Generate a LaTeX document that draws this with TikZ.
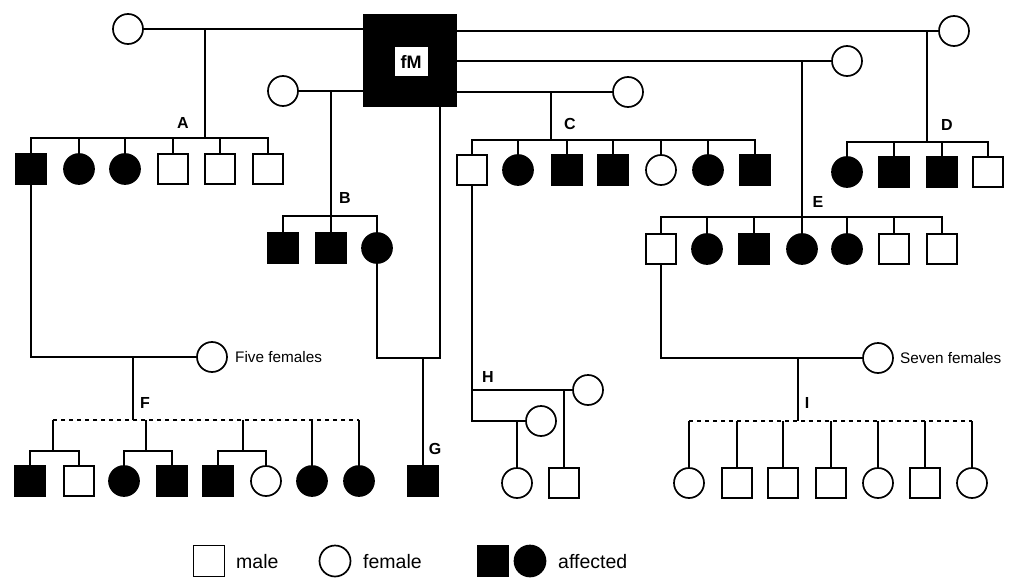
\documentclass[tikz,border=0pt]{standalone}
\usepackage{fontspec}
\setmainfont{Liberation Sans}
\begin{document}
\begin{tikzpicture}[x=1pt,y=-1pt,
  ln/.style={line width=1.8pt},
  dl/.style={line width=1.8pt, dash pattern=on 4pt off 4pt},
  ind/.style={draw, line width=1.7pt, inner sep=0pt, minimum size=30pt, fill=white},
  ma/.style={ind, rectangle},
  fe/.style={ind, circle},
  ama/.style={ma, fill=black},
  afe/.style={fe, fill=black},
  lab/.style={font=\bfseries\fontsize{16}{18}\selectfont, inner sep=0pt},
  txt/.style={font=\fontsize{15.3}{17}\selectfont, inner sep=0pt, anchor=west},
  leg/.style={font=\fontsize{19.5}{22}\selectfont, inner sep=0pt, anchor=west}]
\useasboundingbox (0,0) rectangle (1012,578);

% founders
\node[draw, fill=black, minimum width=93pt, minimum height=92pt, inner sep=0pt, line width=1pt] (fM) at (410,60.5) {};
\node[fill=white, minimum width=33pt, minimum height=29pt, inner sep=0pt, font=\bfseries\fontsize{18}{20}\selectfont] (fMl) at (411,62) {fM};
\coordinate (fMdrop) at (440,107);
\node[fe] (gA) at (128,29) {};
\node[fe] (gB) at (283,91) {};
\node[fe] (gC) at (628,92) {};
\node[fe] (gE) at (847,61) {};
\node[fe] (gD) at (954,31) {};

% A children
\node[ama] (a1) at (31,169) {};
\node[afe] (a2) at (79,169) {};
\node[afe] (a3) at (125,169) {};
\node[ma] (a4) at (173,169) {};
\node[ma] (a5) at (220,169) {};
\node[ma] (a6) at (268,169) {};
% B children
\node[ama] (b1) at (283,248) {};
\node[ama] (b2) at (331,248) {};
\node[afe] (b3) at (377,248) {};
% C children
\node[ma] (c1) at (472,170) {};
\node[afe] (c2) at (518,170) {};
\node[ama] (c3) at (567,170) {};
\node[ama] (c4) at (613,170) {};
\node[fe] (c5) at (661,170) {};
\node[afe] (c6) at (708,170) {};
\node[ama] (c7) at (755,170) {};
% D children
\node[afe] (d1) at (847,172) {};
\node[ama] (d2) at (894,172) {};
\node[ama] (d3) at (942,172) {};
\node[ma] (d4) at (988,172) {};
% E children
\node[ma] (e1) at (661,249) {};
\node[afe] (e2) at (707,249) {};
\node[ama] (e3) at (754,249) {};
\node[afe] (e4) at (802,249) {};
\node[afe] (e5) at (847,249) {};
\node[ma] (e6) at (894,249) {};
\node[ma] (e7) at (942,249) {};
% spouses of generation 2
\node[fe] (ff) at (212,357) {};
\node[txt] (fft) at (235,357) {Five females};
\node[fe] (sf) at (878,358) {};
\node[txt] (sft) at (900,358) {Seven females};
\node[fe] (hw1) at (588,390) {};
\node[fe] (hw2) at (541,421) {};
% F children
\node[ama] (f1) at (30,481) {};
\node[ma] (f2) at (79,481) {};
\node[afe] (f3) at (124,481) {};
\node[ama] (f4) at (172,481) {};
\node[ama] (f5) at (218,481) {};
\node[fe] (f6) at (266,481) {};
\node[afe] (f7) at (312,481) {};
\node[afe] (f8) at (359,481) {};
% G
\node[ama] (g1) at (423,481) {};
% H children
\node[fe] (h1) at (517,483) {};
\node[ma] (h2) at (564,483) {};
% I children
\node[fe] (i1) at (689,483) {};
\node[ma] (i2) at (737,483) {};
\node[ma] (i3) at (783,483) {};
\node[ma] (i4) at (831,483) {};
\node[fe] (i5) at (878,483) {};
\node[ma] (i6) at (925,483) {};
\node[fe] (i7) at (972,483) {};

% junction coordinates
\coordinate (Abar) at (205,138);
\coordinate (Bbar) at (331,216);
\coordinate (Cbar) at (551,140);
\coordinate (Dbar) at (927,142);
\coordinate (Ebar) at (802,217);
\coordinate (Fbar) at (133,420);
\coordinate (F1) at (53,451);
\coordinate (F2) at (146,451);
\coordinate (F3) at (243,451);
\coordinate (Gm) at (423,358);
\coordinate (Ibar) at (798,421);

% mating lines
\draw[ln] (gA.east) -- (gA.east -| fM.west);
\draw[ln] (gB.east) -- (gB.east -| fM.west);
\draw[ln] (fM.east |- gD) -- (gD.west);
\draw[ln] (fM.east |- gE) -- (gE.west);
\draw[ln] (fM.east |- gC) -- (gC.west);

% A
\draw[ln] (Abar |- gA) -- (Abar);
\draw[ln] (a1.north) |- (a6.north |- Abar) -- (a6.north);
\foreach \c in {a2,a3,a4,a5} \draw[ln] (\c.north) -- (\c.north |- Abar);
% B
\draw[ln] (Bbar |- gB) -- (Bbar);
\draw[ln] (b1.north) |- (b3.north |- Bbar) -- (b3.north);
\draw[ln] (b2.north) -- (b2.north |- Bbar);
% C
\draw[ln] (Cbar |- gC) -- (Cbar);
\draw[ln] (c1.north) |- (c7.north |- Cbar) -- (c7.north);
\foreach \c in {c2,c3,c4,c5,c6} \draw[ln] (\c.north) -- (\c.north |- Cbar);
% D
\draw[ln] (Dbar |- gD) -- (Dbar);
\draw[ln] (d1.north) |- (d4.north |- Dbar) -- (d4.north);
\foreach \c in {d2,d3} \draw[ln] (\c.north) -- (\c.north |- Dbar);
% E
\draw[ln] (Ebar |- gE) -- (Ebar);
\draw[ln] (e1.north) |- (e7.north |- Ebar) -- (e7.north);
\foreach \c in {e2,e3,e4,e5,e6} \draw[ln] (\c.north) -- (\c.north |- Ebar);

% F
\draw[ln] (a1.south) |- (ff.west);
\draw[ln] (Fbar |- ff) -- (Fbar);
\draw[dl] (F1 |- Fbar) -- (f8.north |- Fbar);
\draw[ln] (F1 |- Fbar) -- (F1);
\draw[ln] (F2 |- Fbar) -- (F2);
\draw[ln] (F3 |- Fbar) -- (F3);
\draw[ln] (f1.north) |- (f2.north |- F1) -- (f2.north);
\draw[ln] (f3.north) |- (f4.north |- F2) -- (f4.north);
\draw[ln] (f5.north) |- (f6.north |- F3) -- (f6.north);
\draw[ln] (f7.north) -- (f7.north |- Fbar);
\draw[ln] (f8.north) -- (f8.north |- Fbar);

% G
\draw[ln] (b3.south) |- (Gm -| fMdrop) -- (fMdrop);
\draw[ln] (Gm) -- (g1.north);

% H
\draw[ln] (c1.south) |- (hw2.west);
\draw[ln] (c1.south |- hw1) -- (hw1.west);
\draw[ln] (h1.north) -- (h1.north |- hw2);
\draw[ln] (h2.north) -- (h2.north |- hw1);

% I
\draw[ln] (e1.south) |- (sf.west);
\draw[ln] (Ibar |- sf) -- (Ibar);
\draw[dl] (i1.north |- Ibar) -- (i7.north |- Ibar);
\foreach \c in {i1,i2,i3,i4,i5,i6,i7} \draw[ln] (\c.north) -- (\c.north |- Ibar);

% labels
\node[lab] (lA) at (183,123) {A};
\node[lab] (lB) at (345,198) {B};
\node[lab] (lC) at (570,124) {C};
\node[lab] (lD) at (947,125) {D};
\node[lab] (lE) at (818,202) {E};
\node[lab] (lF) at (145,403) {F};
\node[lab] (lG) at (435,449) {G};
\node[lab] (lH) at (488,377) {H};
\node[lab] (lI) at (807,403) {I};

% legend
\node[ma, minimum size=31pt] (kM) at (209,561) {};
\node[leg] (kMt) at (236,562) {male};
\node[fe, minimum size=31pt] (kF) at (335,561) {};
\node[leg] (kFt) at (363,562) {female};
\node[ama, minimum size=31pt] (kAm) at (493,561) {};
\node[afe, minimum size=31pt] (kAf) at (530,561) {};
\node[leg] (kAt) at (558,562) {affected};
\end{tikzpicture}
\end{document}
